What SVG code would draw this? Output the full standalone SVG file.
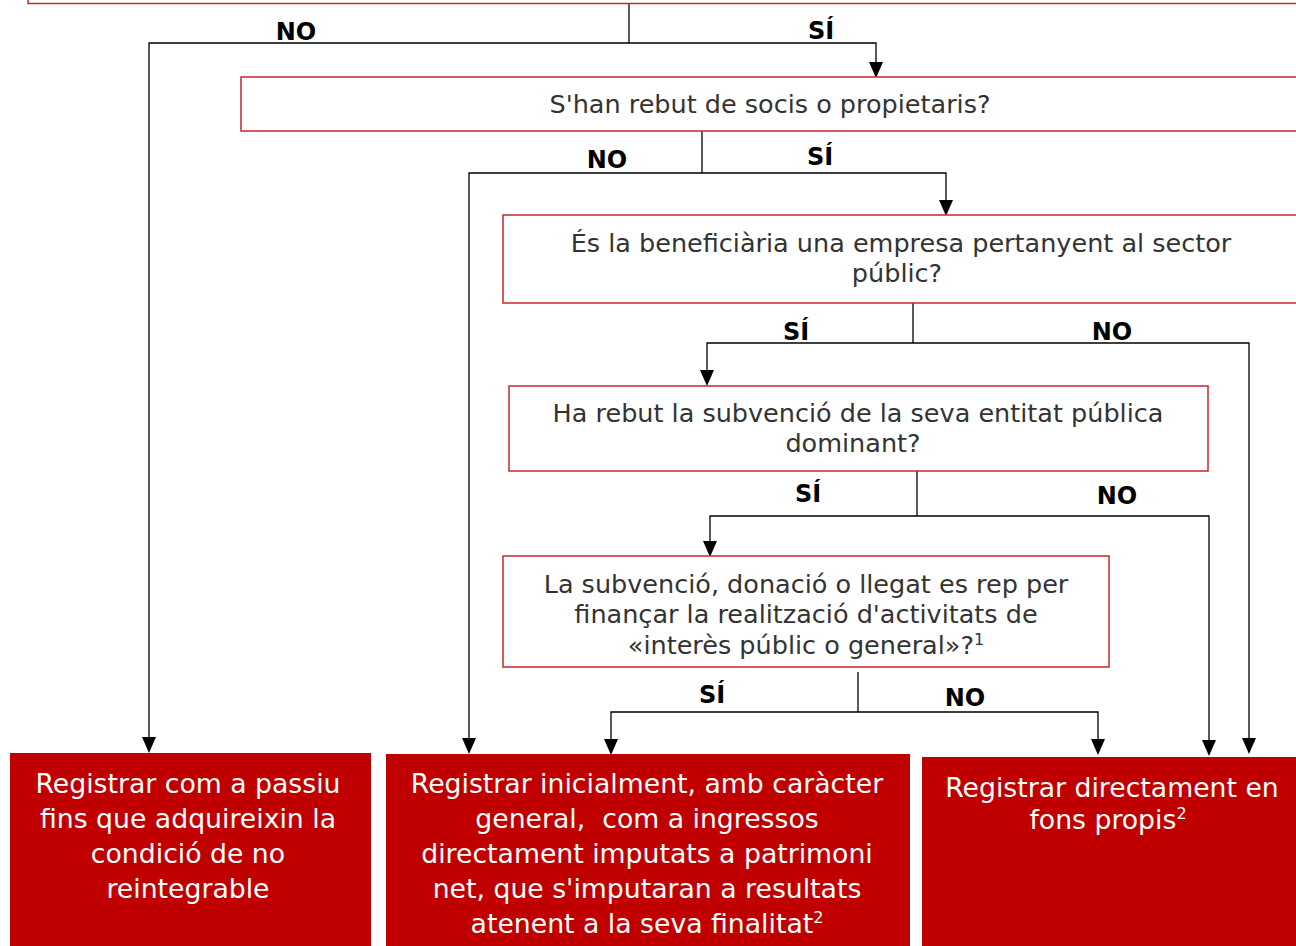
<svg xmlns="http://www.w3.org/2000/svg" width="1296" height="946" viewBox="0 0 1296 946">
<defs>
<style>
.q{fill:#fff;stroke:#c8282c;stroke-width:1.5}
.r{fill:#c00000}
.qt{font-family:"DejaVu Sans",Verdana,sans-serif;font-size:25.5px;fill:#333;text-anchor:middle}
.rt{font-family:"DejaVu Sans",Verdana,sans-serif;font-size:26.7px;fill:#fff;text-anchor:middle}
.lb{font-family:"DejaVu Sans",Verdana,sans-serif;font-size:24px;font-weight:bold;fill:#000;text-anchor:middle}
.c{fill:none;stroke:#000;stroke-width:1.3}
.sup{font-size:16px}
</style>
</defs>
<rect width="1296" height="946" fill="#fff"/>
<g id="connectors">
<path class="c" d="M629,4 V43"/>
<path class="c" d="M629,43 H149 V738"/>
<path class="c" d="M629,43 H876 V62"/>
<path class="c" d="M702,131 V173"/>
<path class="c" d="M702,173 H469 V739"/>
<path class="c" d="M702,173 H946 V200"/>
<path class="c" d="M913,303 V343"/>
<path class="c" d="M913,343 H707 V370"/>
<path class="c" d="M913,343 H1249 V739"/>
<path class="c" d="M917,471 V516"/>
<path class="c" d="M917,516 H710 V541"/>
<path class="c" d="M917,516 H1209 V741"/>
<path class="c" d="M858,672 V712"/>
<path class="c" d="M858,712 H611 V740"/>
<path class="c" d="M858,712 H1098 V740"/>
<g fill="#000">
<polygon points="142,737 156,737 149,753"/>
<polygon points="869,62 883,62 876,78"/>
<polygon points="462,738 476,738 469,754"/>
<polygon points="939,200 953,200 946,216"/>
<polygon points="700,370 714,370 707,386"/>
<polygon points="1242,738 1256,738 1249,754"/>
<polygon points="703,541 717,541 710,557"/>
<polygon points="1202,740 1216,740 1209,756"/>
<polygon points="604,739 618,739 611,755"/>
<polygon points="1091,739 1105,739 1098,755"/>
</g>
<text class="lb" x="296" y="40">NO</text>
<text class="lb" x="821" y="39">SÍ</text>
<text class="lb" x="607" y="168">NO</text>
<text class="lb" x="820" y="165">SÍ</text>
<text class="lb" x="796" y="340">SÍ</text>
<text class="lb" x="1112" y="340">NO</text>
<text class="lb" x="808" y="502">SÍ</text>
<text class="lb" x="1117" y="504">NO</text>
<text class="lb" x="712" y="703">SÍ</text>
<text class="lb" x="965" y="706">NO</text>
</g>
<g id="q0"><rect class="q" x="28" y="-40" width="1300" height="43.5"/></g>
<g id="q1"><rect class="q" x="241" y="77" width="1070" height="54"/>
<text class="qt" x="770" y="113">S'han rebut de socis o propietaris?</text></g>
<g id="q2"><rect class="q" x="503" y="215" width="810" height="88"/>
<text class="qt" x="901" y="252">És la beneficiària una empresa pertanyent al sector</text>
<text class="qt" x="897" y="282">públic?</text></g>
<g id="q3"><rect class="q" x="509" y="386" width="699" height="85"/>
<text class="qt" x="858" y="422">Ha rebut la subvenció de la seva entitat pública</text>
<text class="qt" x="853" y="452">dominant?</text></g>
<g id="q4"><rect class="q" x="503" y="556" width="606" height="111"/>
<text class="qt" x="806" y="593">La subvenció, donació o llegat es rep per</text>
<text class="qt" x="806" y="623">finançar la realització d'activitats de</text>
<text class="qt" x="806" y="654">«interès públic o general»?<tspan class="sup" dy="-9">1</tspan></text></g>
<g id="rA"><rect class="r" x="10" y="753" width="361" height="200"/>
<text class="rt" x="188" y="793">Registrar com a passiu</text>
<text class="rt" x="188" y="828">fins que adquireixin la</text>
<text class="rt" x="188" y="863">condició de no</text>
<text class="rt" x="188" y="898">reintegrable</text></g>
<g id="rB"><rect class="r" x="386" y="754" width="524" height="200"/>
<text class="rt" x="647" y="793">Registrar inicialment, amb caràcter</text>
<text class="rt" x="647" y="828">general,&#160; com a ingressos</text>
<text class="rt" x="647" y="863">directament imputats a patrimoni</text>
<text class="rt" x="647" y="898">net, que s'imputaran a resultats</text>
<text class="rt" x="647" y="933">atenent a la seva finalitat<tspan class="sup" dy="-10">2</tspan></text></g>
<g id="rC"><rect class="r" x="922" y="757" width="380" height="200"/>
<text class="rt" x="1112" y="797">Registrar directament en</text>
<text class="rt" x="1108" y="829">fons propis<tspan class="sup" dy="-10">2</tspan></text></g>
</svg>
